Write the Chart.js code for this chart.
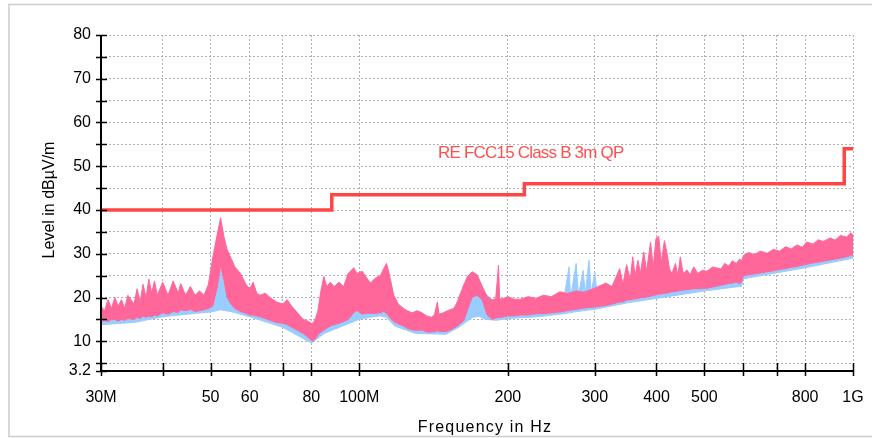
<!DOCTYPE html>
<html>
<head>
<meta charset="utf-8">
<script src="https://cdn.jsdelivr.net/npm/chart.js@4/dist/chart.umd.min.js"></script>
<style>
  html, body { margin: 0; padding: 0; background: #fff; }
  #wrap { width: 872px; height: 438px; position: relative; }
</style>
</head>
<body>
<div id="wrap"><canvas id="c" width="872" height="438"></canvas></div>
<script>
// ---- Data (frequencies in MHz, levels in dBµV/m) ----
const pinkFreq = [30,30.5,31,31.5,32,32.5,33,33.5,34,35,35.5,36,36.5,37,37.5,38,38.5,39,40,41,42,43,43.5,44.5,45.5,46.5,47.5,48.5,49.5,50.5,51.5,52.4,53.2,54,55,56,57.5,59,60,61,62,63,64.5,66,68,70,71.5,73,75,77,79,80.3,81.5,82.5,83.5,84.8,86,87.4,89,91,93,95,97.5,99,101.4,103.5,105.4,108,110.4,112,113.6,115,117.5,120,123,125,128,131,134,137,140,142,144,145,148,151,155.5,158,160.4,163,165.5,169.3,173.3,177.4,181.6,185.9,189,191.5,192.5,196,200,206,212,220,228,236,245,255,264,275,285,298,316,325,337,342,348,354,358,362,367,371,377,382,389,394,399,404,409,415,420,425,430,437,442,447,453,461,468,476,485,495,506,520,540,550,560,570,580,590,595,600,615,630,650,670,690,710,730,750,770,790,806,830,850,870,900,920,943,970,990,1000];
const pinkHi = [18,17,19.5,17.5,20,18,19.5,17.5,20.5,18.5,22,19,23,20,24.2,21,23.8,20.5,23.5,20.5,23.8,21,23.2,20.5,22.5,20.5,21.5,20.5,23,29,34,38.2,34,31,29,27,25.5,23,22,23.5,21,20.5,21,20,19,18.5,19.5,18,16.5,15,14.5,14,15,17,21,24.8,22.5,23.5,22.5,23.5,22.5,25.5,26.8,25.5,26,24.5,23.3,24.5,25,26.5,27.8,25.5,20.5,18.5,17.5,17,16.5,17,16.5,15.8,15.5,16,19,16.2,16.5,17,17.5,19,21,23,24.7,25.9,25.2,22.6,20.2,19.4,19.8,27.4,19.6,19.8,20.2,19.6,19.6,20.2,19.8,20.5,20.2,21.3,20.9,21.5,21.2,22,23.3,22.5,26.6,23,27.5,24,29.3,25,28.5,25.5,30.4,26,32.7,27,33.5,34,28,33,30.2,26.5,25.5,27.8,25,29.3,25.5,26.3,25.2,27,25.5,26.2,26,27,26.5,27.8,27.2,28.4,27.8,28.8,28.3,29.6,30.3,29.8,30.6,30.1,31,30.6,31.6,31.1,32,31.5,32.7,32.2,33.2,32.8,33.6,33.1,34.2,33.8,34.8,34.3];
const pinkLo = [14.5,14.8,14.5,15,15,14.6,15,14.8,15.2,15,15.5,15.2,15.8,15.5,15.8,15.6,16,15.8,16.5,16.2,16.8,16.6,17.2,17,17.3,16.8,17,17.2,17.5,18,22,27,24,20,18.5,17.5,16.8,16.4,16,16,15.8,15.6,15.2,14.8,14.3,14.1,13.8,13.2,12.5,11.8,10.8,10,10.5,11.5,12,12.5,13,13.5,13.8,14.1,14.5,15,16.5,17,16.2,16.4,16.4,16.4,16.5,16.8,16.4,15.6,14.5,14,13.5,13,12.6,12.5,12.6,12.1,12.1,12.2,12.4,12.3,12.2,12.3,13,13.5,14.1,14.8,17,20,20.5,19.5,16,15,15.3,15.5,15.4,15.6,15.8,15.8,16,16,16.3,16.3,16.5,16.7,17,17.3,17.6,17.8,18.2,18.5,19,19,19.4,19.5,19.6,19.7,19.8,20,20,20.1,20.3,20.5,20.6,20.8,20.8,21,21,21.2,21.3,21.4,21.5,21.6,21.7,21.8,21.9,22,22,22.1,22.1,22.4,22.8,23,23.2,23.3,23.5,23.2,23.6,25,25.2,25.4,25.6,25.9,26.1,26.4,26.6,26.9,27.1,27.4,27.6,27.9,28.1,28.3,28.6,28.8,29,29.3,29.6,29.8];

const blueFreq = [30,35,40,45,50,51.5,52.4,53.5,55,60,70,80,85,95,100,105,110,113.6,118,130,150,160,165,170,175,180,190,200,230,260,266,268,275,278,284,287,292,295,300,303,350,400,500,595,600,800,1000];
const blueHi = [16,16.5,17.5,18,19,24,26,22,18.5,17.5,15.5,12,13.5,15.5,17,17.5,18,19.5,16,14,13.5,15,21,22.5,22.5,21,18.5,19,19.5,20,27,20,27.8,20.5,26.2,21,28.5,21,25.9,21,22,23,25,27.5,29,31.5,34.2];
const blueLo = [13.8,14.3,15.6,16.2,16.7,17,17.2,17,16.8,15.6,13.2,9.6,11.8,14,15,15.5,15.8,15.5,13.5,11.8,11.6,13.4,14.5,15.5,15.7,15,14.8,15.2,15.6,16.3,16.5,16.5,16.8,16.8,17,17,17.2,17.2,17.3,17.4,18.8,19.8,21.5,22.6,24.3,26.8,29];

const limitFreq = [30,88,216,960,1000];
const limitLevel = [40,43.5,46,54,54];
const limitName = 'RE FCC15 Class B 3m QP';

const xTicks = [30,40,50,60,70,80,100,200,300,400,500,600,700,800,1000];
const xTickLabels = ['30M','','50','60','','80','100M','200','300','400','500','','','800','1G'];
const yTicks = [3.2,5,10,15,20,25,30,35,40,45,50,55,60,65,70,75,80];
const yTickLabels = ['3.2','','10','','20','','30','','40','','50','','60','','70','','80'];

const xTitle = 'Frequency in Hz';
const yTitle = 'Level in dBµV/m';

// ---- helpers ----
const pts = (xs, ys) => xs.map((x, i) => ({x, y: ys[i]}));
const PINK = 'rgb(255,102,153)';
const BLUE = 'rgb(153,204,255)';
const RED = 'rgb(255,70,70)';
const FONT = '"Liberation Sans", Arial, Helvetica, sans-serif';

const decor = {
  id: 'decor',
  beforeDraw(chart) {
    const ctx = chart.ctx;
    ctx.save();
    ctx.fillStyle = '#fff';
    ctx.fillRect(0, 0, chart.width, chart.height);
    ctx.strokeStyle = '#cccccc';
    ctx.lineWidth = 1.5;
    ctx.strokeRect(9, 4.5, chart.width + 20, 432);
    ctx.restore();
  },
  afterDraw(chart) {
    const ctx = chart.ctx;
    const a = chart.chartArea;
    const xs = chart.scales.x, ys = chart.scales.y;
    ctx.save();
    // axis lines
    ctx.strokeStyle = '#000';
    ctx.lineWidth = 2;
    ctx.beginPath();
    ctx.moveTo(a.left, a.top); ctx.lineTo(a.left, a.bottom + 1);
    ctx.moveTo(a.left - 1, a.bottom); ctx.lineTo(a.right + 1, a.bottom);
    ctx.stroke();
    // ticks crossing axes
    ctx.lineWidth = 1.5;
    ctx.beginPath();
    yTicks.forEach(v => {
      const y = Math.round(ys.getPixelForValue(v)) + 0.5;
      ctx.moveTo(a.left - 5, y); ctx.lineTo(a.left + 6, y);
    });
    xTicks.forEach(v => {
      const x = Math.round(xs.getPixelForValue(v)) + 0.5;
      ctx.moveTo(x, a.bottom - 8); ctx.lineTo(x, a.bottom + 5);
    });
    ctx.stroke();
    // axis titles
    ctx.fillStyle = '#000';
    ctx.font = '16px ' + FONT;
    ctx.textAlign = 'center';
    ctx.textBaseline = 'middle';
    ctx.letterSpacing = '1.2px';
    ctx.fillText(xTitle, 485, 428);
    ctx.letterSpacing = '0px';
    ctx.save();
    ctx.translate(50, 200);
    ctx.rotate(-Math.PI / 2);
    ctx.fillText(yTitle, 0, 0);
    ctx.restore();
    // limit label
    ctx.fillStyle = 'rgb(255,80,80)';
    ctx.font = '17px ' + FONT;
    ctx.letterSpacing = '-0.8px';
    ctx.textAlign = 'left';
    ctx.fillText(limitName, 438, 153);
    ctx.restore();
  }
};

new Chart(document.getElementById('c'), {
  type: 'line',
  data: {
    datasets: [
      { label: limitName, data: pts(limitFreq, limitLevel), stepped: 'before',
        borderColor: RED, borderWidth: 3.5, pointRadius: 0, fill: false, order: 0 },
      { label: 'pinkHi', data: pts(pinkFreq, pinkHi), borderColor: PINK, backgroundColor: PINK,
        borderWidth: 1, pointRadius: 0, fill: '+1', order: 1 },
      { label: 'pinkLo', data: pts(pinkFreq, pinkLo), borderColor: PINK,
        borderWidth: 1, pointRadius: 0, fill: false, order: 2 },
      { label: 'blueHi', data: pts(blueFreq, blueHi), borderColor: BLUE, backgroundColor: BLUE,
        borderWidth: 1, pointRadius: 0, fill: '+1', order: 3 },
      { label: 'blueLo', data: pts(blueFreq, blueLo), borderColor: BLUE,
        borderWidth: 1, pointRadius: 0, fill: false, order: 4 }
    ]
  },
  options: {
    responsive: false,
    animation: false,
    events: [],
    layout: { padding: { top: 35, right: 19, left: 0, bottom: 0 } },
    plugins: { legend: { display: false }, tooltip: { enabled: false } },
    elements: { line: { tension: 0 } },
    scales: {
      x: {
        type: 'logarithmic', min: 30, max: 1000,
        afterBuildTicks: s => { s.ticks = xTicks.map(v => ({ value: v })); },
        afterFit: s => { s.height = 67; s.paddingRight = 0; s.paddingLeft = 0; },
        ticks: {
          autoSkip: false, maxRotation: 0, padding: 17, color: '#000',
          font: { size: 16, family: FONT },
          callback: (v, i) => xTickLabels[i]
        },
        grid: { color: '#b0b0b0', lineWidth: 1, drawTicks: false },
        border: { display: false, dash: [2, 2] }
      },
      y: {
        type: 'linear', min: 3.2, max: 80,
        afterBuildTicks: s => { s.ticks = yTicks.map(v => ({ value: v })); },
        afterFit: s => { s.width = 101; s.paddingTop = 0; s.paddingBottom = 0; },
        ticks: {
          autoSkip: false, padding: 10, color: '#000',
          font: { size: 16, family: FONT },
          callback: (v, i) => yTickLabels[i]
        },
        grid: { color: '#b0b0b0', lineWidth: 1, drawTicks: false },
        border: { display: false, dash: [2, 2] }
      }
    }
  },
  plugins: [decor]
});
</script>
</body>
</html>
